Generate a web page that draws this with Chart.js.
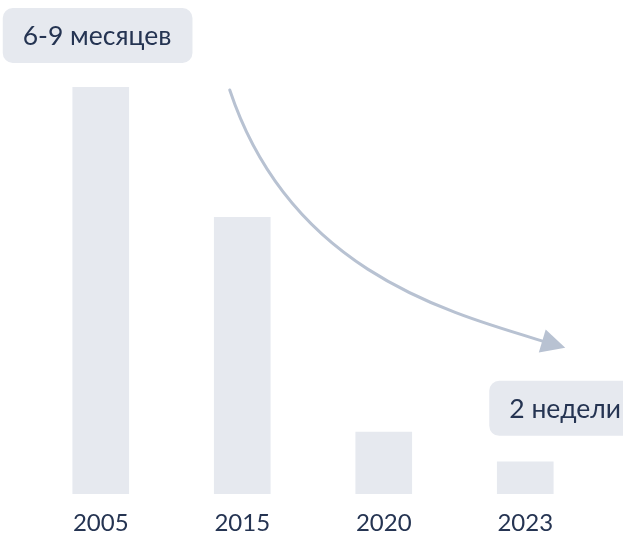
<!DOCTYPE html>
<html>
<head>
<meta charset="utf-8">
<script src="https://cdn.jsdelivr.net/npm/chart.js@4/dist/chart.umd.min.js"></script>
<style>
  html, body { margin: 0; padding: 0; background: #fff; }
  #wrap { width: 623px; height: 538px; }
</style>
</head>
<body>
<div id="wrap"><canvas id="c" width="623" height="538"></canvas></div>
<script>
// data
var years = ['2005', '2015', '2020', '2023'];
var duration = [100, 68, 15.2, 7.9];
var startLabel = '6-9 месяцев';
var endLabel = '2 недели';

var barColor = '#e6e9ef';
var textColor = '#253452';
var arrowColor = '#b8c2d2';
var font = 'Lato, "Noto Sans", sans-serif';

// labels in boxes + curved arrow
var notes = {
  id: 'notes',
  afterDraw: function (chart) {
    var ctx = chart.ctx;
    var x = chart.scales.x, y = chart.scales.y;

    function box(text, left, bottom) {
      ctx.save();
      ctx.font = '26.5px ' + font;
      var w = ctx.measureText(text).width + 41;
      var h = 55;
      ctx.fillStyle = barColor;
      ctx.beginPath();
      ctx.roundRect(left, bottom - h, w, h, 10);
      ctx.fill();
      ctx.fillStyle = textColor;
      ctx.textBaseline = 'middle';
      ctx.fillText(text, left + 20, bottom - h / 2 + 1);
      ctx.restore();
    }

    var x0 = x.getPixelForValue(0), x3 = x.getPixelForValue(3);
    box(startLabel, x0 - 98, y.getPixelForValue(duration[0]) - 24);
    box(endLabel, x3 - 36, y.getPixelForValue(duration[3]) - 26);

    // arrow from 2005 towards 2023
    var sx = x0 + 129, sy = y.getPixelForValue(duration[0]) + 3;
    var tx = x3 + 40, ty = y.getPixelForValue(duration[3]) - 114;
    var c1x = sx + 60, c1y = sy + 180;
    var c2x = tx - 120, c2y = ty - 36;
    var dx = tx - c2x, dy = ty - c2y;
    var len = Math.sqrt(dx * dx + dy * dy);
    dx /= len; dy /= len;
    var headL = 24, headW = 12;
    var bx = tx - dx * headL, by = ty - dy * headL;

    ctx.save();
    ctx.strokeStyle = arrowColor;
    ctx.lineWidth = 3;
    ctx.lineCap = 'round';
    ctx.beginPath();
    ctx.moveTo(sx, sy);
    ctx.bezierCurveTo(c1x, c1y, c2x, c2y, bx + dx * 4, by + dy * 4);
    ctx.stroke();
    ctx.fillStyle = arrowColor;
    ctx.beginPath();
    ctx.moveTo(tx, ty);
    ctx.lineTo(bx - dy * headW, by + dx * headW);
    ctx.lineTo(bx + dy * headW, by - dx * headW);
    ctx.closePath();
    ctx.fill();
    ctx.restore();
  }
};

new Chart(document.getElementById('c').getContext('2d'), {
  type: 'bar',
  data: {
    labels: years,
    datasets: [{
      data: duration,
      backgroundColor: barColor,
      barThickness: 56,
      borderWidth: 0
    }]
  },
  options: {
    responsive: false,
    animation: false,
    layout: { padding: { top: 87, left: 30, right: 27, bottom: 0 } },
    plugins: { legend: { display: false }, tooltip: { enabled: false } },
    scales: {
      y: { display: false, min: 0, max: 100 },
      x: {
        grid: { display: false, drawTicks: false },
        border: { display: false },
        ticks: { color: textColor, padding: 15, font: { family: font, size: 24 } },
        afterFit: function (s) { s.height = 44; }
      }
    }
  },
  plugins: [notes]
});
</script>
</body>
</html>
